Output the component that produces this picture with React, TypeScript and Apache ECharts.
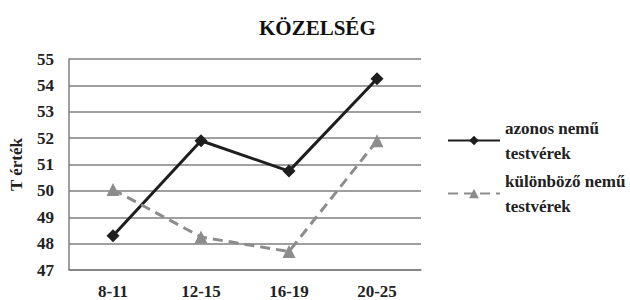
import React, { useEffect, useRef } from "react";
import * as echarts from "echarts";

const categories = ["8-11", "12-15", "16-19", "20-25"];
const sameSex = [48.3, 51.9, 50.75, 54.25];
const diffSex = [50.05, 48.25, 47.7, 51.9];
const seriesNames = ["azonos nemű\ntestvérek", "különböző nemű\ntestvérek"];
const yTicks = { min: 47, max: 55, interval: 1 };

const FONT = "Liberation Serif";

export default function App() {
  const ref = useRef<HTMLDivElement>(null);
  useEffect(() => {
    if (!ref.current) return;
    document.body.style.margin = "0";
    const chart = echarts.init(ref.current, undefined, { renderer: "svg" });
    const legendText = {
      fontFamily: FONT,
      fontWeight: "bold" as const,
      fontSize: 17,
      color: "#222",
      lineHeight: 25,
      padding: [25, 0, 0, 0],
    };
    chart.setOption({
      animation: false,
      backgroundColor: "#fff",
      textStyle: { fontFamily: FONT },
      title: {
        text: "KÖZELSÉG",
        left: 254,
        top: 12,
        textStyle: { fontFamily: FONT, fontWeight: "bold", fontSize: 21, color: "#111" },
      },
      legend: [
        {
          data: [seriesNames[0]],
          left: 442,
          top: 98,
          itemWidth: 52,
          itemHeight: 12,
          itemGap: 0,
          textStyle: legendText,
        },
        {
          data: [seriesNames[1]],
          left: 442,
          top: 151,
          itemWidth: 52,
          itemHeight: 12,
          itemGap: 0,
          textStyle: legendText,
        },
      ],
      grid: { left: 67, right: 209, top: 59, bottom: 30, containLabel: false },
      xAxis: {
        type: "category",
        data: categories,
        boundaryGap: true,
        axisLine: { show: true, lineStyle: { color: "#7f7f7f", width: 1.5 } },
        axisTick: { show: false },
        axisLabel: {
          margin: 13,
          fontFamily: FONT,
          fontWeight: "bold",
          fontSize: 17,
          color: "#222",
        },
      },
      yAxis: {
        type: "value",
        min: yTicks.min,
        max: yTicks.max,
        interval: yTicks.interval,
        name: "T érték",
        nameLocation: "middle",
        nameGap: 44,
        nameTextStyle: { fontFamily: FONT, fontWeight: "bold", fontSize: 17, color: "#222" },
        axisLine: { show: true, lineStyle: { color: "#7f7f7f", width: 1.5 } },
        axisTick: { show: false },
        axisLabel: {
          margin: 15,
          fontFamily: FONT,
          fontWeight: "bold",
          fontSize: 17,
          color: "#222",
        },
        splitLine: { show: true, lineStyle: { color: "#7f7f7f", width: 1.5 } },
      },
      series: [
        {
          name: seriesNames[0],
          type: "line",
          data: sameSex,
          symbol: "diamond",
          symbolSize: 13,
          lineStyle: { color: "#1e1e1e", width: 3 },
          itemStyle: { color: "#1e1e1e" },
        },
        {
          name: seriesNames[1],
          type: "line",
          data: diffSex,
          symbol: "triangle",
          symbolSize: 13,
          lineStyle: { color: "#8c8c8c", width: 3, type: [10, 6] },
          itemStyle: { color: "#8c8c8c" },
        },
      ],
    });
    return () => chart.dispose();
  }, []);
  return <div ref={ref} style={{ width: 630, height: 300 }} />;
}
